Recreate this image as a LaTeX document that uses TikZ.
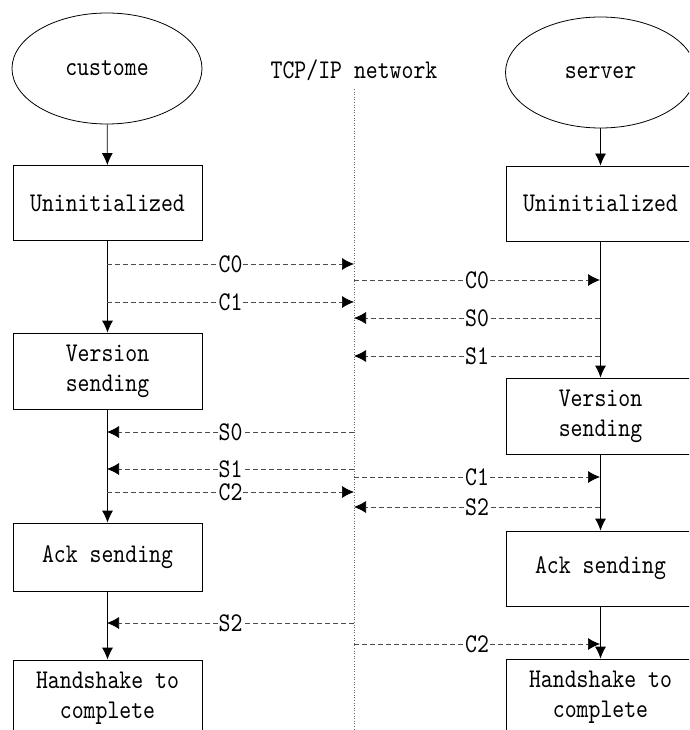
\documentclass[tikz,border=0pt]{standalone}
\usepackage{fontspec}
\usetikzlibrary{shapes.geometric,arrows.meta}
\newfontfamily\diagfont[FakeStretch=0.84]{lmmono10-regular.otf}
\begin{document}
\begin{tikzpicture}[x=1pt,y=-1pt,
  every node/.style={font=\diagfont\fontsize{27}{30}\selectfont, text=black},
  lane/.style={draw, line width=0.8pt, ellipse, minimum width=190pt, minimum height=111pt, inner sep=0pt},
  state/.style={draw, line width=0.8pt, rectangle, minimum width=189pt, inner sep=0pt, align=center},
  flow/.style={line width=0.8pt, -{Latex[length=12pt,width=11pt]}},
  msg/.style={line width=0.7pt, draw=black!70, dash pattern=on 5pt off 3pt,
    -{Latex[length=12pt,width=12pt,color=black]}},
  tag/.style={fill=white, inner sep=1pt},
]
\useasboundingbox (0,0) rectangle (689,730);
\clip (0,0) rectangle (689,730);

% network boundary
\node (net) at (354,70) {TCP/IP network};
\coordinate (nettop) at (354,89);
\coordinate (netbot) at (354,730);
\draw[black!60, line width=0.6pt, dotted] (nettop) -- (netbot);

% client column
\node[lane] (cli) at (107,68.5) {custome};
\node[state, minimum height=75pt] (cu) at (107.5,203) {Uninitialized};
\node[state, minimum height=76pt] (cv) at (107.5,371) {Version\\sending};
\node[state, minimum height=68pt] (ca) at (107.5,557) {Ack sending};
\node[state, minimum height=76pt] (ch) at (107.5,698) {Handshake to\\complete};

% server column
\node[lane] (srv) at (600.5,72.5) {server};
\node[state, minimum height=75pt] (su) at (600.5,203.5) {Uninitialized};
\node[state, minimum height=76pt] (sv) at (600.5,416) {Version\\sending};
\node[state, minimum height=75pt] (sa) at (600.5,568.5) {Ack sending};
\node[state, minimum height=76pt] (sh) at (600.5,697) {Handshake to\\complete};

% state transitions
\draw[flow] (cli) -- (cu);
\draw[flow] (cu) -- (cv);
\draw[flow] (cv) -- (ca);
\draw[flow] (ca) -- (ch);
\draw[flow] (srv) -- (su);
\draw[flow] (su) -- (sv);
\draw[flow] (sv) -- (sa);
\draw[flow] (sa) -- (sh);

% message end points on the client side
\coordinate (lC0) at (107,264);  \coordinate (nC0l) at (354,264);
\coordinate (lC1) at (107,302);  \coordinate (nC1l) at (354,302);
\coordinate (lS0) at (107,432);  \coordinate (nS0l) at (354,432);
\coordinate (lS1) at (107,469);  \coordinate (nS1l) at (354,469);
\coordinate (lC2) at (107,492);  \coordinate (nC2l) at (354,492);
\coordinate (lS2) at (107,623);  \coordinate (nS2l) at (354,623);

% message end points on the server side
\coordinate (nC0r) at (354,280); \coordinate (rC0) at (600,280);
\coordinate (nS0r) at (354,318); \coordinate (rS0) at (600,318);
\coordinate (nS1r) at (354,356); \coordinate (rS1) at (600,356);
\coordinate (nC1r) at (354,477); \coordinate (rC1) at (600,477);
\coordinate (nS2r) at (354,507); \coordinate (rS2) at (600,507);
\coordinate (nC2r) at (354,644); \coordinate (rC2) at (600,644);

% client <-> network (C2 first, so the S1 label sits on top of it)
\draw[msg] (lC0) -- node[tag] {C0} (nC0l);
\draw[msg] (lC1) -- node[tag] {C1} (nC1l);
\draw[msg] (nS0l) -- node[tag] {S0} (lS0);
\draw[msg] (lC2) -- node[tag] {C2} (nC2l);
\draw[msg] (nS1l) -- node[tag] {S1} (lS1);
\draw[msg] (nS2l) -- node[tag] {S2} (lS2);

% network <-> server
\draw[msg] (nC0r) -- node[tag] {C0} (rC0);
\draw[msg] (rS0) -- node[tag] {S0} (nS0r);
\draw[msg] (rS1) -- node[tag] {S1} (nS1r);
\draw[msg] (nC1r) -- node[tag] {C1} (rC1);
\draw[msg] (rS2) -- node[tag] {S2} (nS2r);
\draw[msg] (nC2r) -- node[tag] {C2} (rC2);
\end{tikzpicture}
\end{document}
